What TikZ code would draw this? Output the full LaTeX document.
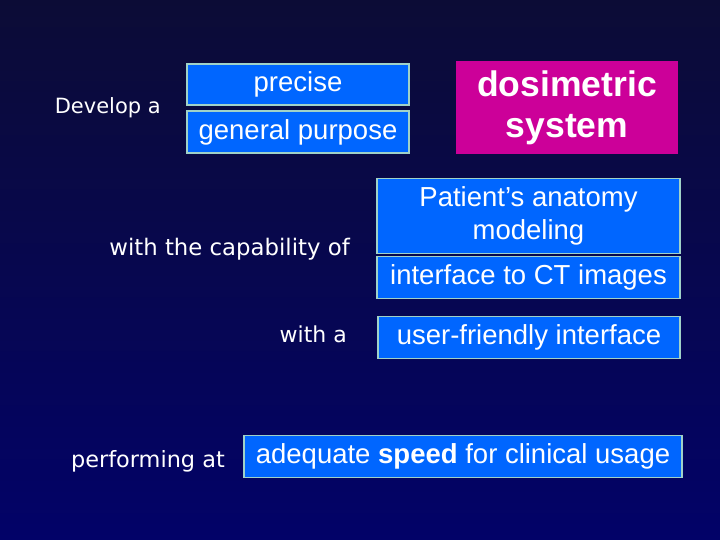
\documentclass[tikz,border=0pt]{standalone}
\usepackage{fontspec}
\setmainfont{Liberation Sans}
\newfontfamily\handfont{DejaVu Sans}
\usepackage{tikz}
\usetikzlibrary{positioning}
\usepackage{xcolor}

\definecolor{slidetop}{RGB}{12,12,54}
\definecolor{slidebottom}{RGB}{2,2,104}
\definecolor{boxblue}{RGB}{0,102,255}
\definecolor{boxedge}{RGB}{160,210,200}
\definecolor{dosimagenta}{RGB}{204,0,153}

\begin{document}
\begin{tikzpicture}[x=1pt,y=-1pt,
  bluebox/.style={draw=boxedge, line width=1.2pt, fill=boxblue, text=white,
    inner sep=0pt, align=center, font=\fontsize{27.5}{33}\selectfont},
  handlbl/.style={text=white, inner sep=0pt, anchor=east,
    font=\handfont\fontsize{22}{26}\selectfont}]

\useasboundingbox (0,0) rectangle (720,540);
\shade[top color=slidetop, bottom color=slidebottom] (0,0) rectangle (720,540);

% what is developed
\node[bluebox, minimum width=222pt, minimum height=41pt] (precise) at (298,84.5) {precise};
\node[bluebox, minimum width=222pt, minimum height=42pt] (general) at (298,132) {general purpose};
\node[fill=dosimagenta, text=white, inner sep=0pt, align=center,
      minimum width=222pt, minimum height=93pt,
      font=\bfseries\fontsize{35.5}{41}\selectfont] (dosim) at (567,108) {dosimetric\\system};

% capabilities
\node[bluebox, minimum width=303pt, minimum height=75pt] (anatomy) at (528.5,216) {Patient’s anatomy\\modeling};
\node[bluebox, minimum width=303pt, minimum height=42pt] (ctimg) at (528.5,277.5) {interface to CT images};
\node[bluebox, minimum width=302pt, minimum height=42pt] (userif) at (529,337.5) {user-friendly interface};
\node[bluebox, minimum width=438pt, minimum height=42pt] (speed) at (463,456.5) {adequate \textbf{speed} for clinical usage};

% hand written labels
\node[handlbl, font=\handfont\fontsize{21}{24}\selectfont] (develop) at (161,108) {Develop a};
\node[handlbl, font=\handfont\fontsize{22.8}{26}\selectfont] (capab) at (350,249) {with the capability of};
\node[handlbl] (witha) at (347,334) {with a};
\node[handlbl, font=\handfont\fontsize{22.4}{26}\selectfont] (perform) at (225,461) {performing at};

\end{tikzpicture}
\end{document}
